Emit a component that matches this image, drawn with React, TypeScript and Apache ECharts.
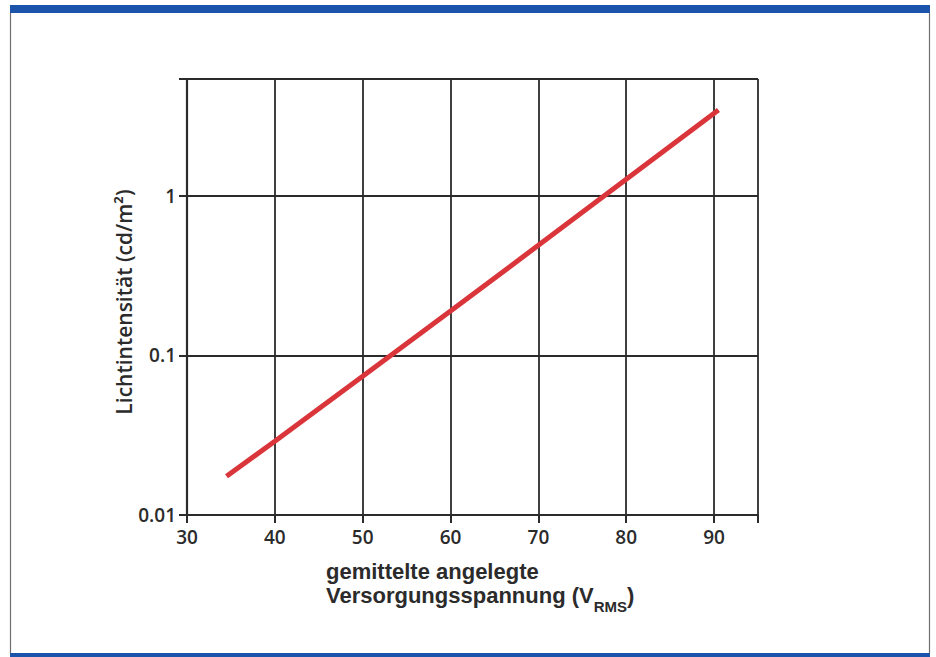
import React, { useEffect, useRef } from "react";
import * as echarts from "echarts";

const voltages = [34.5, 40, 50, 60, 70, 80, 90.5];
const intensities = [0.0175, 0.029, 0.074, 0.19, 0.49, 1.27, 3.45];
const yTickLabels = ["0.01", "0.1", "1"];
const xAxisTitleLine1 = "gemittelte angelegte";
const xAxisTitleLine2 = "Versorgungsspannung (V";
const xAxisTitleSub = "RMS";
const yAxisTitle = "Lichtintensität (cd/m²)";

const FONT = "'Open Sans', 'Noto Sans', sans-serif";
const TFONT = "'Liberation Sans', Arial, sans-serif";
const INK = "#2b2b2b";

export default function App() {
  const ref = useRef<HTMLDivElement>(null);
  useEffect(() => {
    document.body.style.margin = "0";
    const chart = echarts.init(ref.current!, undefined, { renderer: "svg" });
    chart.setOption({
      animation: false,
      backgroundColor: "#ffffff",
      grid: { left: 187, right: 178, top: 79, bottom: 142, containLabel: false },
      xAxis: {
        type: "value",
        min: 30,
        max: 95,
        interval: 10,
        axisLine: { show: true, lineStyle: { color: INK, width: 2.2 } },
        axisTick: { show: true, length: 8, inside: false, lineStyle: { color: INK, width: 2 } },
        axisLabel: {
          margin: 12,
          color: INK,
          fontFamily: FONT,
          fontWeight: 600,
          fontSize: 19,
          formatter: (v: number) => (v % 10 === 0 && v <= 90 ? String(v) : ""),
        },
        splitLine: { show: true, lineStyle: { color: INK, width: 1.8 } },
      },
      yAxis: {
        type: "log",
        logBase: 10,
        min: 0.01,
        max: 5.4,
        axisLine: { show: true, onZero: false, lineStyle: { color: INK, width: 2.2 } },
        axisTick: { show: true, length: 8, inside: false, lineStyle: { color: INK, width: 2 } },
        axisLabel: {
          margin: 11,
          color: INK,
          fontFamily: FONT,
          fontWeight: 600,
          fontSize: 19,
          formatter: (v: number) => {
            const e = Math.round(Math.log10(v));
            if (Math.abs(Math.log10(v) - e) > 1e-6) return "";
            return yTickLabels[e + 2] ?? "";
          },
        },
        splitLine: { show: true, lineStyle: { color: INK, width: 1.8 } },
      },
      series: [
        {
          type: "line",
          data: voltages.map((v, i) => [v, intensities[i]]),
          showSymbol: false,
          symbol: "none",
          lineStyle: { color: "#d9353a", width: 5, cap: "butt" },
          z: 5,
        },
      ],
      graphic: [
        { type: "rect", shape: { x: 10, y: 5, width: 920, height: 8 }, style: { fill: "#1c54ab" }, silent: true },
        { type: "rect", shape: { x: 10, y: 653, width: 920, height: 4 }, style: { fill: "#1c54ab" }, silent: true },
        { type: "line", shape: { x1: 10.5, y1: 13, x2: 10.5, y2: 653 }, style: { stroke: "#6f6f6f", lineWidth: 1.2 }, silent: true },
        { type: "line", shape: { x1: 929.5, y1: 13, x2: 929.5, y2: 653 }, style: { stroke: "#6f6f6f", lineWidth: 1.2 }, silent: true },
        {
          type: "text",
          x: 326,
          y: 560,
          style: {
            text: xAxisTitleLine1,
            fill: INK,
            font: `bold 22px ${TFONT}`,
            lineHeight: 22,
            verticalAlign: "top",
          },
        },
        {
          type: "text",
          x: 326,
          y: 584,
          style: {
            text: `{n|${xAxisTitleLine2}}{s|${xAxisTitleSub}}{n|)}`,
            fill: INK,
            font: `bold 22px ${TFONT}`,
            verticalAlign: "top",
            rich: {
              n: { fontFamily: TFONT, fontWeight: "bold", fontSize: 22, fill: INK, lineHeight: 22, verticalAlign: "top" },
              s: { fontFamily: TFONT, fontWeight: "bold", fontSize: 15, fill: INK, lineHeight: 15, padding: [15, 0, 0, 0], verticalAlign: "top" },
            },
          },
        },
        {
          type: "text",
          x: 124,
          y: 302,
          rotation: Math.PI / 2,
          style: {
            text: yAxisTitle,
            fill: INK,
            font: `600 21px ${FONT}`,
            align: "center",
            verticalAlign: "middle",
          },
        },
      ],
    });
    return () => chart.dispose();
  }, []);
  return <div ref={ref} style={{ position: "fixed", left: 0, top: 0, width: 936, height: 657 }} />;
}
